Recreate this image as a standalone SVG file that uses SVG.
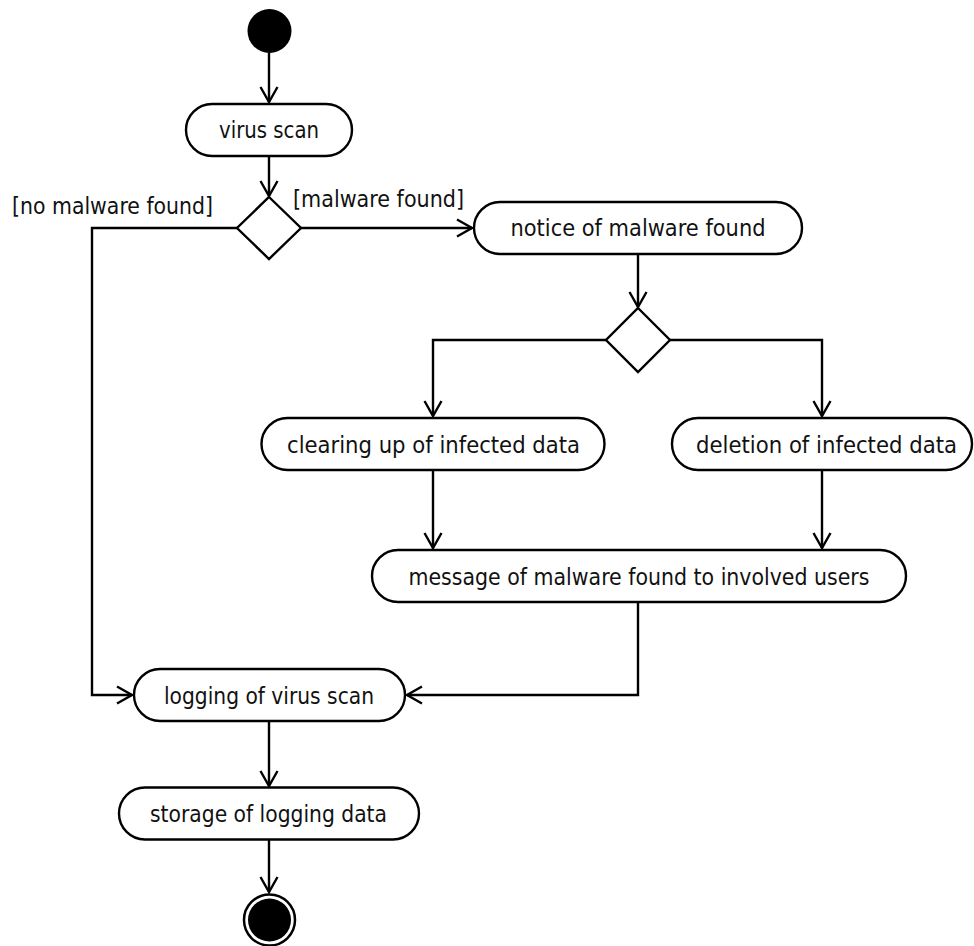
<svg xmlns="http://www.w3.org/2000/svg" width="974" height="946" viewBox="0 0 974 946">
  <style>
    .bg { fill: #ffffff; }
    .action rect { fill: #ffffff; stroke: #000000; stroke-width: 2.4; }
    .decision polygon { fill: #ffffff; stroke: #000000; stroke-width: 2.4; }
    text { font-family: "DejaVu Sans Condensed", "DejaVu Sans", sans-serif; font-stretch: condensed; font-size: 23px; fill: #111111; }
    .lbl { text-anchor: middle; }
    .flow { fill: none; stroke: #000000; stroke-width: 2.4; marker-end: url(#open); }
  </style>
  <defs>
    <marker id="open" markerUnits="userSpaceOnUse" markerWidth="20" markerHeight="20" viewBox="-17 -10 20 20" refX="0" refY="0" orient="auto">
      <path d="M -15 -8.5 L 0 0 L -15 8.5" fill="none" stroke="#000000" stroke-width="2.4"/>
    </marker>
  </defs>
  <rect class="bg" x="0" y="0" width="974" height="946"/>

  <!-- control flows -->
  <g id="connectors">
    <path class="flow" d="M 269 53 L 269 102"/>
    <path class="flow" d="M 269 157 L 269 196"/>
    <path class="flow" d="M 301 228 L 472 228"/>
    <path class="flow" d="M 237 228 L 92 228 L 92 695 L 132 695"/>
    <path class="flow" d="M 638 254 L 638 307"/>
    <path class="flow" d="M 608 340 L 433 340 L 433 416"/>
    <path class="flow" d="M 670 340 L 822 340 L 822 416"/>
    <path class="flow" d="M 433 471 L 433 548"/>
    <path class="flow" d="M 822 471 L 822 548"/>
    <path class="flow" d="M 638 603 L 638 695 L 407 695"/>
    <path class="flow" d="M 269 722 L 269 786"/>
    <path class="flow" d="M 269 840 L 269 892"/>
    <text x="12" y="214" textLength="201" lengthAdjust="spacingAndGlyphs">[no malware found]</text>
    <text x="293" y="207" textLength="171" lengthAdjust="spacingAndGlyphs">[malware found]</text>
  </g>

  <g id="start">
    <circle cx="269.5" cy="31" r="22" fill="#000000"/>
  </g>

  <g id="virus-scan" class="action">
    <rect x="186" y="104" width="166" height="52" rx="26"/>
    <text class="lbl" x="269" y="138" textLength="100" lengthAdjust="spacingAndGlyphs">virus scan</text>
  </g>

  <g id="decision-scan" class="decision">
    <polygon points="269,197 301,228 269,259 237,228"/>
  </g>

  <g id="notice" class="action">
    <rect x="474" y="202" width="328" height="52" rx="26"/>
    <text class="lbl" x="638" y="236" textLength="255" lengthAdjust="spacingAndGlyphs">notice of malware found</text>
  </g>

  <g id="decision-treatment" class="decision">
    <polygon points="638,308 670,340 638,372 606,340"/>
  </g>

  <g id="clearing" class="action">
    <rect x="261.5" y="418" width="343" height="52" rx="26"/>
    <text class="lbl" x="433.5" y="453" textLength="293" lengthAdjust="spacingAndGlyphs">clearing up of infected data</text>
  </g>

  <g id="deletion" class="action">
    <rect x="672" y="418" width="300" height="52" rx="26"/>
    <text x="696" y="453" textLength="261" lengthAdjust="spacingAndGlyphs">deletion of infected data</text>
  </g>

  <g id="message" class="action">
    <rect x="372" y="550" width="534" height="52" rx="26"/>
    <text class="lbl" x="639" y="585" textLength="461" lengthAdjust="spacingAndGlyphs">message of malware found to involved users</text>
  </g>

  <g id="logging" class="action">
    <rect x="134" y="669" width="271" height="52" rx="26"/>
    <text class="lbl" x="269" y="704" textLength="210" lengthAdjust="spacingAndGlyphs">logging of virus scan</text>
  </g>

  <g id="storage" class="action">
    <rect x="119" y="787.5" width="300" height="52" rx="26"/>
    <text class="lbl" x="268.5" y="822" textLength="237" lengthAdjust="spacingAndGlyphs">storage of logging data</text>
  </g>

  <g id="end">
    <circle cx="269.5" cy="920" r="25.5" fill="#ffffff" stroke="#000000" stroke-width="2.5"/>
    <circle cx="269.5" cy="920" r="21.5" fill="#000000"/>
  </g>
</svg>
